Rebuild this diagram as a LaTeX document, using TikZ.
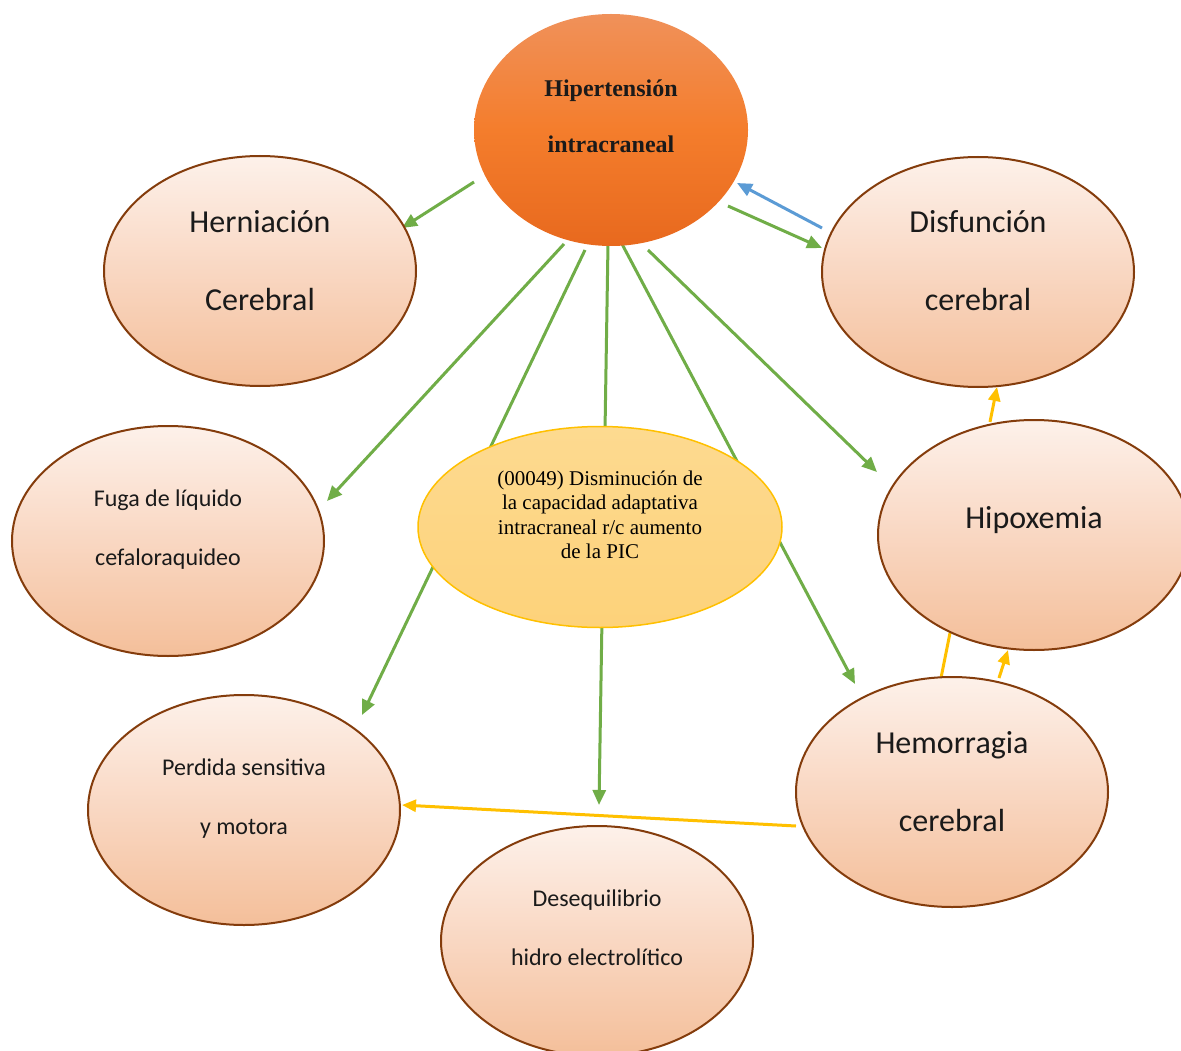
\documentclass[tikz,border=0pt]{standalone}
\usepackage{fontspec}
\setmainfont{Carlito}
\newfontfamily\tnr{Liberation Serif}
\usetikzlibrary{shapes.geometric,arrows.meta}
\pgfdeclarelayer{back}
\pgfdeclarelayer{bg}
\pgfsetlayers{back,bg,main}
\definecolor{brownb}{HTML}{843C0C}
\definecolor{greenc}{HTML}{70AD47}
\definecolor{bluec}{HTML}{5B9BD5}
\definecolor{goldc}{HTML}{FFC000}
\definecolor{pT}{HTML}{FDF1EA}
\definecolor{pM}{HTML}{F9D7C2}
\definecolor{pB}{HTML}{F4BF9A}
\definecolor{oT}{HTML}{F0915A}
\definecolor{oM}{HTML}{F47D2C}
\definecolor{oB}{HTML}{E8691E}
\definecolor{cT}{HTML}{FDDA90}
\definecolor{cB}{HTML}{FDD27A}
\definecolor{txt}{HTML}{1A1A1A}
\tikzset{
  peach/.style={ellipse, draw=brownb, line width=2pt, top color=pT, bottom color=pB, middle color=pM,
    minimum width=312pt, minimum height=230pt, inner sep=0pt},
  bigtxt/.style={font=\fontsize{32}{78}\selectfont, align=center, text=txt},
  smalltxt/.style={font=\fontsize{24}{59}\selectfont, align=center, text=txt},
  garrow/.style={draw=greenc, line width=3pt, -{Triangle[length=15pt,width=13pt]}},
  barrow/.style={draw=bluec, line width=3pt, -{Triangle[length=15pt,width=13pt]}},
  yarrow/.style={draw=goldc, line width=3pt, -{Triangle[length=14pt,width=12pt]}},
  yline/.style={draw=goldc, line width=3pt},
}
\begin{document}
\begin{tikzpicture}[x=1pt,y=-1pt]
\useasboundingbox (0,0) rectangle (1181,1051);
\begin{pgfonlayer}{back}
\fill[white] (0,0) rectangle (1181,1051);
\end{pgfonlayer}
\clip (0,0) rectangle (1181,1051);

\node[ellipse, top color=oT, bottom color=oB, middle color=oM, minimum width=274pt, minimum height=232pt, inner sep=0pt,
  label={[font=\tnr\bfseries\fontsize{24}{56}\selectfont, align=center, text=txt, yshift=14pt]center:Hipertensión\\intracraneal}]
  (top) at (611,130) {};

\node[peach, label={[bigtxt, yshift=10pt]center:Herniación\\Cerebral}] (hern) at (260,271) {};
\node[peach, label={[bigtxt, yshift=11pt]center:Disfunción\\cerebral}] (disf) at (978,272) {};
\node[peach, label={[smalltxt, yshift=11pt]center:Fuga de líquido\\cefaloraquideo}] (fuga) at (168,541) {};
\node[peach, label={[bigtxt, yshift=15pt]center:Hipoxemia}] (hipox) at (1034,535) {};
\node[peach, label={[smalltxt, yshift=11pt]center:Perdida sensitiva\\y motora}] (perd) at (244,810) {};
\node[peach, label={[bigtxt, yshift=10pt]center:Hemorragia\\cerebral}] (hemo) at (952,792) {};
\node[peach, label={[smalltxt, yshift=13pt]center:Desequilibrio\\hidro electrolítico}] (deseq) at (597,941) {};

\node[ellipse, draw=goldc, line width=1.5pt, top color=cT, bottom color=cB, minimum width=364pt, minimum height=201pt, inner sep=0pt,
  label={[font=\tnr\fontsize{21}{24.5}\selectfont, align=center, text=black, yshift=12pt]center:(00049) Disminución de\\la capacidad adaptativa\\intracraneal r/c aumento\\de la PIC}]
  (cent) at (600,527) {};

\begin{pgfonlayer}{bg}
\draw[garrow] ([shift={(-137,52)}]top.center) -- ([shift={(142,-43)}]hern.center);
\draw[garrow] ([shift={(-47,114)}]top.center) -- ([shift={(159,-40)}]fuga.center);
\draw[garrow] ([shift={(-26,120)}]top.center) -- ([shift={(118,-95)}]perd.center);
\draw[garrow] ([shift={(-3,114)}]top.center) -- ([shift={(2,-136)}]deseq.center);
\draw[garrow] ([shift={(11,114)}]top.center) -- ([shift={(-97,-108)}]hemo.center);
\draw[garrow] ([shift={(37,120)}]top.center) -- ([shift={(-157,-63)}]hipox.center);
\draw[garrow] ([shift={(117,76)}]top.center) -- ([shift={(-156,-24)}]disf.center);
\draw[barrow] ([shift={(-156,-44)}]disf.center) -- ([shift={(126,53)}]top.center);
\draw[yarrow] ([shift={(-44,-113)}]hipox.center) -- ([shift={(19,115)}]disf.center);
\draw[yline] ([shift={(-11,-114)}]hemo.center) -- ([shift={(-84,98)}]hipox.center);
\draw[yarrow] ([shift={(47,-114)}]hemo.center) -- ([shift={(-26,115)}]hipox.center);
\draw[yarrow] ([shift={(-156,34)}]hemo.center) -- ([shift={(158,-5)}]perd.center);
\end{pgfonlayer}
\end{tikzpicture}
\end{document}
